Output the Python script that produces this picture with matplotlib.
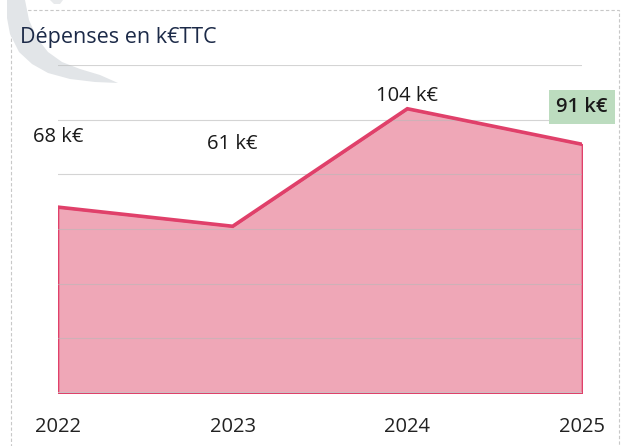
import matplotlib
matplotlib.use("Agg")
import matplotlib.pyplot as plt
from matplotlib.patches import Rectangle, Polygon

plt.rcParams['font.family'] = ['Open Sans', 'DejaVu Sans']

years = ["2022", "2023", "2024", "2025"]
values = [68, 61, 104, 91]
labels = ["68 k€", "61 k€", "104 k€", "91 k€"]
title = "Dépenses en k€TTC"

# label offsets (pixels) above the points
label_dy = [70, 82, 13, 37]

W, H = 627, 446
fig = plt.figure(figsize=(W / 100, H / 100), dpi=100)
fig.patch.set_facecolor('white')

# background overlay for frame & decorative watermark
bg = fig.add_axes([0, 0, 1, 1], zorder=0)
bg.set_xlim(0, W)
bg.set_ylim(H, 0)
bg.axis('off')
bg.add_patch(Rectangle((11, 10), 608, 460, fill=False, edgecolor='#c8c8c8',
                       lw=0.8, ls=(0, (3, 2))))
# decorative crescent (watermark)
crescent = [(7, 0), (7, 18), (10, 34), (19, 52), (32, 64), (48, 73), (70, 79),
            (95, 82), (118, 83),
            (100, 75), (80, 69), (62, 62), (48, 52), (37, 38), (29, 20), (25, 0)]
bg.add_patch(Polygon(crescent, closed=True, facecolor='#e2e5e8', edgecolor='none'))
bg.add_patch(Polygon([(50, 0), (63, 0), (60, 4), (54, 4)], closed=True,
                     facecolor='#e8eaec', edgecolor='none'))
bg.text(20, 38, title, fontsize=15.5, color='#1c2a48', va='center', ha='left')

ax = fig.add_axes([58 / W, (H - 393) / H, (582 - 58) / W, (393 - 65) / H], zorder=1)
ax.patch.set_alpha(0)
x = list(range(len(years)))
ax.fill_between(x, values, 0, facecolor='#efa7b7', edgecolor='#e0406a', lw=1.2, zorder=2)
ax.plot(x, values, color='#e0406a', lw=2.6, solid_joinstyle='miter', zorder=4)
ax.set_xlim(0, 3)
ax.set_ylim(0, 120)
ax.set_yticks(range(0, 121, 20))
ax.yaxis.grid(True, color='#b8b8b8', lw=0.8, alpha=0.6, zorder=3)
ax.set_axisbelow(False)
for s in ax.spines.values():
    s.set_visible(False)
ax.axhline(0, color='#c8c8c8', lw=1.2, zorder=5)
ax.tick_params(axis='y', left=False, labelleft=False)
ax.tick_params(axis='x', bottom=False, pad=14, labelsize=14.5, labelcolor='#222222')
ax.set_xticks(x)
ax.set_xticklabels(years)

for i, (v, lab, dy) in enumerate(zip(values, labels, label_dy)):
    if i == len(values) - 1:
        ax.annotate(lab, (i, v), xytext=(0, dy), textcoords='offset pixels',
                    ha='center', va='center', fontsize=14.5, fontweight='semibold',
                    color='#1a1a1a', annotation_clip=False, zorder=6,
                    bbox=dict(boxstyle='square,pad=0.35', fc='#bcdcbf', ec='none'))
    else:
        ax.annotate(lab, (i, v), xytext=(0, dy), textcoords='offset pixels',
                    ha='center', va='center', fontsize=14.5, color='#1a1a1a',
                    annotation_clip=False, zorder=6)

fig.savefig('out.png', dpi=100)
